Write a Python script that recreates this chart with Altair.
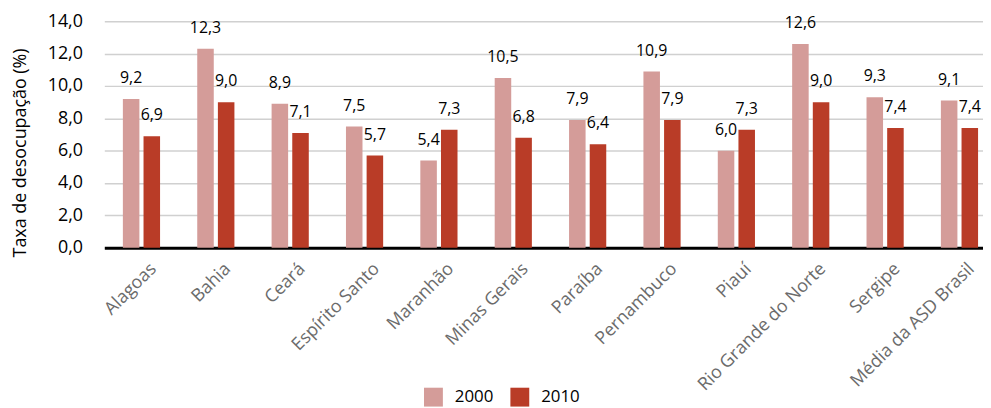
import altair as alt
import pandas as pd

estados = ["Alagoas", "Bahia", "Ceará", "Espírito Santo", "Maranhão", "Minas Gerais",
           "Paraíba", "Pernambuco", "Piauí", "Rio Grande do Norte", "Sergipe",
           "Média da ASD Brasil"]
v2000 = [9.2, 12.3, 8.9, 7.5, 5.4, 10.5, 7.9, 10.9, 6.0, 12.6, 9.3, 9.1]
v2010 = [6.9, 9.0, 7.1, 5.7, 7.3, 6.8, 6.4, 7.9, 7.3, 9.0, 7.4, 7.4]
anos = ["2000", "2010"]
ticks_y = [0, 2, 4, 6, 8, 10, 12, 14]
cores = ["#d49c99", "#b93c27"]

rows = []
for e, a, b in zip(estados, v2000, v2010):
    rows.append({"estado": e, "ano": "2000", "valor": a})
    rows.append({"estado": e, "ano": "2010", "valor": b})
df = pd.DataFrame(rows)

FONT = "Open Sans"

x = alt.X("estado:N", sort=estados, title=None,
          scale=alt.Scale(paddingInner=0.5, paddingOuter=0.158, align=0.79),
          axis=alt.Axis(labelAngle=-45, labelColor="#6b6b6b", labelFontSize=18,
                        labelFont=FONT, ticks=False, domainColor="black",
                        domainWidth=3, labelPadding=12, labelOffset=6, grid=False,
                        labelOverlap=False))
xo = alt.XOffset("ano:N", sort=anos, scale=alt.Scale(paddingInner=0.2))
y = alt.Y("valor:Q", title="Taxa de desocupação (%)",
          scale=alt.Scale(domain=[0, 14], nice=False),
          axis=alt.Axis(values=ticks_y, tickCount=8,
                        labelExpr="replace(format(datum.value, '.1f'), '.', ',')",
                        labelFontSize=18, labelFont=FONT, labelColor="black",
                        labelOverlap=False, labelBound=False,
                        ticks=False, domain=False, labelPadding=22,
                        titleFontSize=18, titleFont=FONT, titleFontWeight="normal",
                        titleColor="black", titlePadding=18, titleY=132,
                        gridColor="#d0d0d0", gridWidth=1.5))

color = alt.Color("ano:N", sort=anos, scale=alt.Scale(domain=anos, range=cores),
                  legend=alt.Legend(title=None, orient="none", direction="horizontal",
                                    legendX=322, legendY=369, labelFontSize=17,
                                    labelFont=FONT, labelColor="black",
                                    symbolType="square", symbolSize=361,
                                    symbolStrokeWidth=0, columnPadding=17,
                                    labelOffset=12))

bars = alt.Chart(df).mark_bar().encode(x=x, xOffset=xo, y=y, color=color)
labels = alt.Chart(df).mark_text(baseline="bottom", dy=-13, fontSize=16, font=FONT,
                                 color="black").encode(
    x=x, xOffset=xo, y=y,
    text=alt.Text("rotulo:N"))
labels = labels.transform_calculate(rotulo="replace(format(datum.valor, '.1f'), '.', ',')")

chart = alt.layer(bars, labels).properties(
    width=885, height=228,
    autosize=alt.AutoSizeParams(type="none"),
    padding={"left": 97, "top": 12, "right": 0, "bottom": 160}
).configure_view(stroke=None)

chart.save("out.html", embed_options={"renderer": "svg", "actions": False})
